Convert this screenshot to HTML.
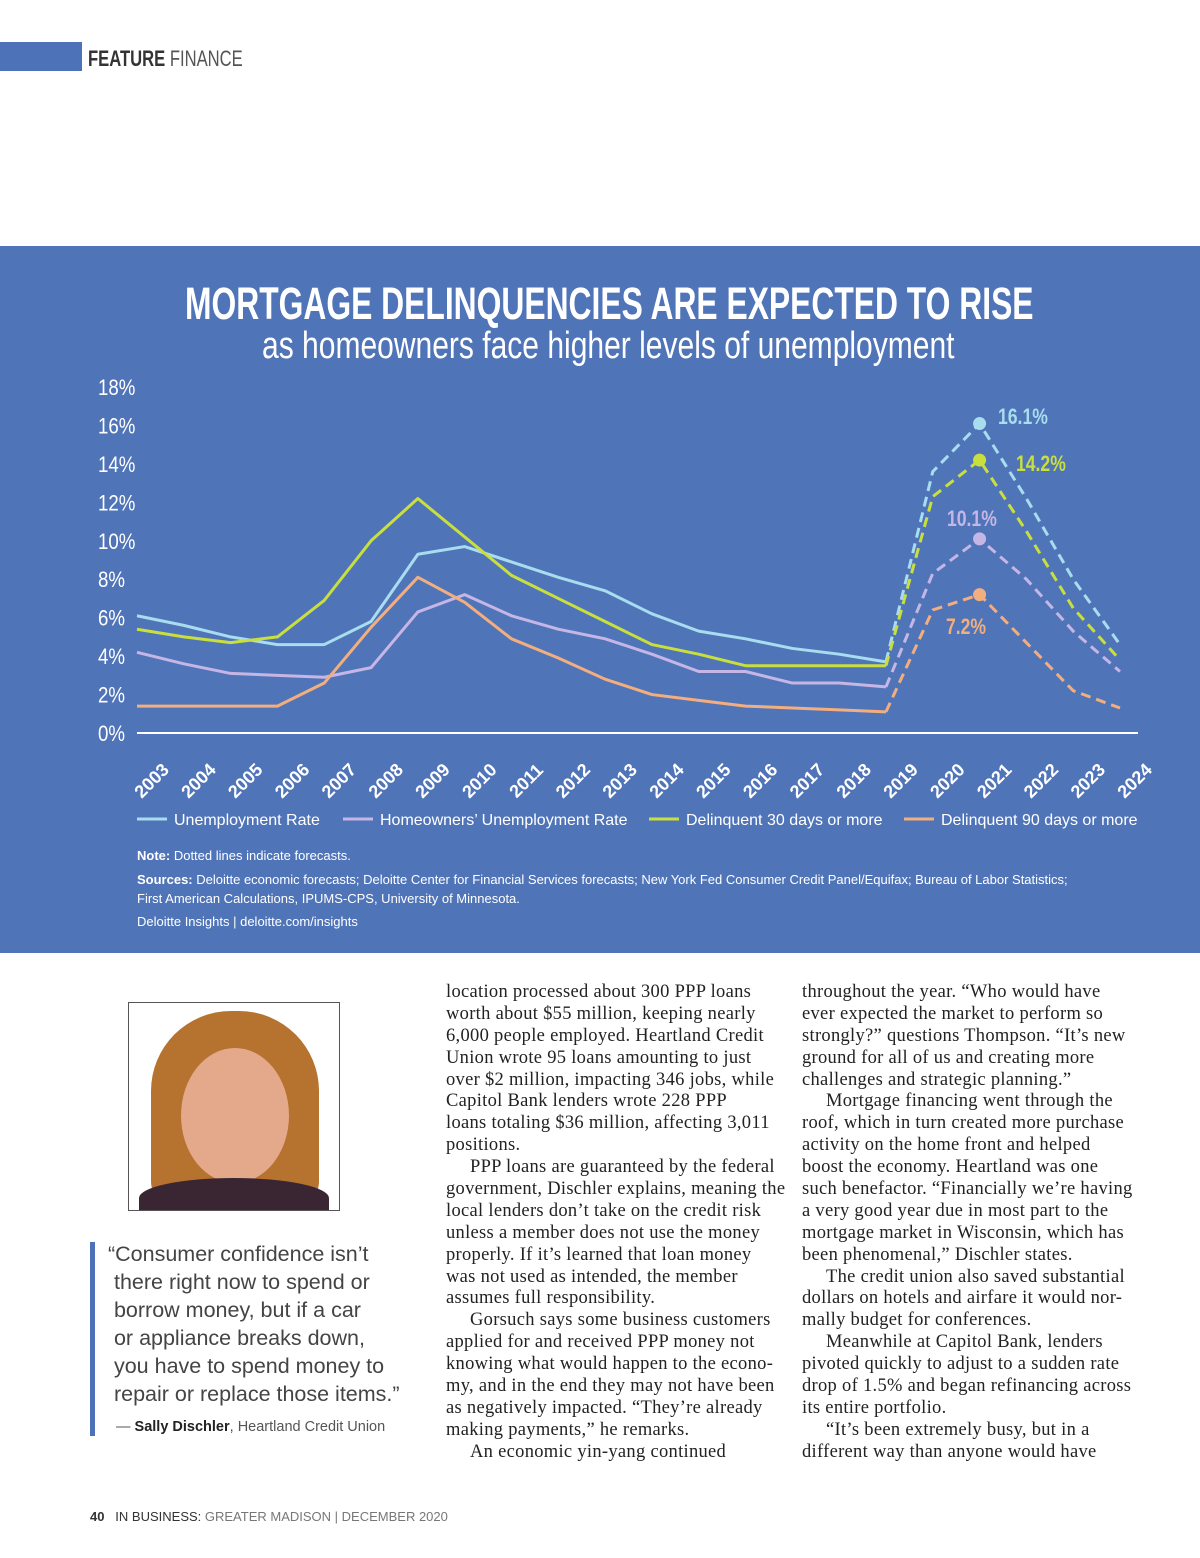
<!DOCTYPE html>
<html><head><meta charset="utf-8"><style>
body{margin:0;width:1200px;height:1558px;background:#fff;position:relative;overflow:hidden;font-family:"Liberation Sans",sans-serif}
.abs{position:absolute}
.col{position:absolute;font-family:"Liberation Serif",serif;font-size:18.5px;letter-spacing:0.3px;line-height:21.9px;color:#222;white-space:nowrap}
.col div{height:21.9px}
.i{padding-left:24px}
.sx{display:inline-block;transform-origin:left top}
</style></head><body>
<div class="abs" style="left:0;top:42px;width:82px;height:29px;background:#4d72b8"></div>
<div class="abs" style="left:88px;top:46px;font-size:22px;color:#333"><span class="sx" style="transform:scaleX(0.755)"><b>FEATURE</b> <span style="color:#555">FINANCE</span></span></div>

<div class="abs" style="left:0;top:246px;width:1200px;height:707px;background:#5074b8"></div>
<div class="abs" style="left:185px;top:278px;color:#fff;font-size:45px;font-weight:bold;white-space:nowrap"><span class="sx" style="transform:scaleX(0.707)">MORTGAGE DELINQUENCIES ARE EXPECTED TO RISE</span></div>
<div class="abs" style="left:262px;top:325px;color:#fff;font-size:38px;white-space:nowrap"><span class="sx" style="transform:scaleX(0.79)">as homeowners face higher levels of unemployment</span></div>

<svg class="abs" style="left:0;top:0" width="1200" height="953" id="chart"></svg>

<div class="abs" style="left:137px;top:846px;color:#fff;font-size:13px;line-height:19.5px">
<div><b>Note:</b> Dotted lines indicate forecasts.</div>
<div style="margin-top:4px"><b>Sources:</b> Deloitte economic forecasts; Deloitte Center for Financial Services forecasts; New York Fed Consumer Credit Panel/Equifax; Bureau of Labor Statistics;<br>First American Calculations, IPUMS-CPS, University of Minnesota.</div>
<div style="margin-top:3px">Deloitte Insights | deloitte.com/insights</div>
</div>

<div class="abs" style="left:128px;top:1002px;width:212px;height:209px;border:1px solid #555;box-sizing:border-box;background:#fff;overflow:hidden">
<div style="position:absolute;left:22px;top:8px;width:168px;height:200px;border-radius:80px 80px 30px 30px;background:#b5732f"></div>
<div style="position:absolute;left:52px;top:45px;width:108px;height:135px;border-radius:50%;background:#e4a98a"></div>
<div style="position:absolute;left:10px;top:175px;width:190px;height:40px;border-radius:50% 50% 0 0;background:#3a2532"></div>
</div>
<div class="abs" style="left:90px;top:1242px;width:5px;height:194px;background:#4d72b8"></div>
<div class="abs" style="left:108px;top:1240px;font-size:21.5px;line-height:28px;color:#444;font-weight:300">“Consumer confidence isn’t<br>&nbsp;there right now to spend or<br>&nbsp;borrow money, but if a car<br>&nbsp;or appliance breaks down,<br>&nbsp;you have to spend money to<br>&nbsp;repair or replace those items.”</div>
<div class="abs" style="left:116px;top:1419px;font-size:14.5px;color:#555">— <b style="color:#222">Sally Dischler</b>, Heartland Credit Union</div>

<div class="col" style="left:446px;top:982px;width:324px">
<div>location processed about 300 PPP loans</div>
<div>worth about $55 million, keeping nearly</div>
<div>6,000 people employed. Heartland Credit</div>
<div>Union wrote 95 loans amounting to just</div>
<div>over $2 million, impacting 346 jobs, while</div>
<div>Capitol Bank lenders wrote 228 PPP</div>
<div>loans totaling $36 million, affecting 3,011</div>
<div>positions.</div>
<div class="i">PPP loans are guaranteed by the federal</div>
<div>government, Dischler explains, meaning the</div>
<div>local lenders don’t take on the credit risk</div>
<div>unless a member does not use the money</div>
<div>properly. If it’s learned that loan money</div>
<div>was not used as intended, the member</div>
<div>assumes full responsibility.</div>
<div class="i">Gorsuch says some business customers</div>
<div>applied for and received PPP money not</div>
<div>knowing what would happen to the econo-</div>
<div>my, and in the end they may not have been</div>
<div>as negatively impacted. “They’re already</div>
<div>making payments,” he remarks.</div>
<div class="i">An economic yin-yang continued</div>
</div>
<div class="col" style="left:802px;top:982px;width:312px">
<div>throughout the year. “Who would have</div>
<div>ever expected the market to perform so</div>
<div>strongly?” questions Thompson. “It’s new</div>
<div>ground for all of us and creating more</div>
<div>challenges and strategic planning.”</div>
<div class="i">Mortgage financing went through the</div>
<div>roof, which in turn created more purchase</div>
<div>activity on the home front and helped</div>
<div>boost the economy. Heartland was one</div>
<div>such benefactor. “Financially we’re having</div>
<div>a very good year due in most part to the</div>
<div>mortgage market in Wisconsin, which has</div>
<div>been phenomenal,” Dischler states.</div>
<div class="i">The credit union also saved substantial</div>
<div>dollars on hotels and airfare it would nor-</div>
<div>mally budget for conferences.</div>
<div class="i">Meanwhile at Capitol Bank, lenders</div>
<div>pivoted quickly to adjust to a sudden rate</div>
<div>drop of 1.5% and began refinancing across</div>
<div>its entire portfolio.</div>
<div class="i">“It’s been extremely busy, but in a</div>
<div>different way than anyone would have</div>
</div>

<div class="abs" style="left:90px;top:1509px;font-size:13px;color:#333"><b>40</b> &nbsp; IN BUSINESS: <span style="color:#777">GREATER MADISON | DECEMBER 2020</span></div>

<script>
const years=["2003","2004","2005","2006","2007","2008","2009","2010","2011","2012","2013","2014","2015","2016","2017","2018","2019","2020","2021","2022","2023","2024"];
const yTicks=[0,2,4,6,8,10,12,14,16,18];
const unemp=[6.1,5.6,5.0,4.6,4.6,5.8,9.3,9.7,8.9,8.1,7.4,6.2,5.3,4.9,4.4,4.1,3.7,13.6,16.1,12.2,8.0,4.6];
const homeUnemp=[4.2,3.6,3.1,3.0,2.9,3.4,6.3,7.2,6.1,5.4,4.9,4.1,3.2,3.2,2.6,2.6,2.4,8.3,10.1,8.0,5.3,3.2];
const delq30=[5.4,5.0,4.7,5.0,6.9,10.0,12.2,10.2,8.2,7.0,5.8,4.6,4.1,3.5,3.5,3.5,3.5,12.3,14.2,10.5,6.5,3.8];
const delq90=[1.4,1.4,1.4,1.4,2.6,5.5,8.1,6.8,4.9,3.9,2.8,2.0,1.7,1.4,1.3,1.2,1.1,6.4,7.2,4.7,2.2,1.3];
const forecastStart=16, peakIdx=18;
const NS="http://www.w3.org/2000/svg";
const svg=document.getElementById('chart');
const xs=i=>137+i*(1120-137)/(years.length-1);
const ys=v=>733-v*19.22;
function mk(t,a){const e=document.createElementNS(NS,t);for(const k in a)e.setAttribute(k,a[k]);svg.appendChild(e);return e;}
yTicks.forEach(t=>{const e=mk('text',{x:98,y:ys(t)+8,fill:'#fff','font-size':22,transform:`translate(98 0) scale(0.85 1) translate(-98 0)`});e.textContent=t+'%';

});
const ax=mk('line',{x1:137,x2:1138,y1:733,y2:733,stroke:'#fff','stroke-width':2});


years.forEach((y,i)=>{const x=xs(i)+14;const e=mk('text',{x:x,y:787,fill:'#fff','font-size':18,'font-weight':'bold','text-anchor':'middle',transform:`rotate(-45 ${x} 780)`});e.textContent=y;

});
const series=[[unemp,'#a8dcef','unemployment-line','16.1%',998,416],[homeUnemp,'#c5b6e6','homeowners-unemployment-line','10.1%',947,518],[delq30,'#c9df3e','delinquent-30-line','14.2%',1016,463],[delq90,'#f2ae7e','delinquent-90-line','7.2%',946,626]];
series.forEach(([d,c,n,lab,lx,ly])=>{
const p1=d.slice(0,forecastStart+1).map((v,i)=>xs(i)+','+ys(v)).join(' ');
const a=mk('polyline',{points:p1,fill:'none',stroke:c,'stroke-width':3,'stroke-linejoin':'round'});


const p2=d.slice(forecastStart).map((v,i)=>xs(i+forecastStart)+','+ys(v)).join(' ');
const b=mk('polyline',{points:p2,fill:'none',stroke:c,'stroke-width':3,'stroke-dasharray':'10 6'});


const dot=mk('circle',{cx:xs(peakIdx),cy:ys(d[peakIdx]),r:6.5,fill:c});


const t=mk('text',{x:lx,y:ly+8,fill:c,'font-size':22,'font-weight':'bold',transform:`translate(${lx} 0) scale(0.8 1) translate(${-lx} 0)`});t.textContent=lab;


});
const legend=[['Unemployment Rate','#a8dcef',137],["Homeowners’ Unemployment Rate",'#c5b6e6',343],['Delinquent 30 days or more','#c9df3e',649],['Delinquent 90 days or more','#f2ae7e',904]];
legend.forEach(([l,c,x])=>{const ln=mk('line',{x1:x,x2:x+30,y1:819,y2:819,stroke:c,'stroke-width':3});


const t=mk('text',{x:x+37,y:825,fill:'#fff','font-size':16});t.textContent=l;

});
</script>
</body></html>
